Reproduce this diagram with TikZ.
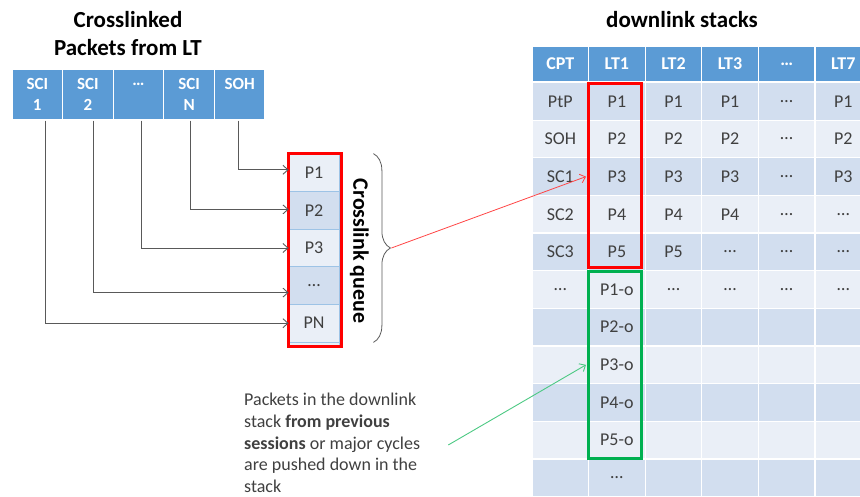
\documentclass[tikz,border=0pt]{standalone}
\usepackage{fontspec}
\setmainfont{Carlito}
\usetikzlibrary{arrows.meta,decorations.pathreplacing}
\definecolor{hdblue}{HTML}{5B9BD5}
\definecolor{band1}{HTML}{D2DEEF}
\definecolor{band0}{HTML}{EAEFF7}
\definecolor{qline}{HTML}{9DC3E6}
\definecolor{txtgray}{HTML}{404040}
\definecolor{feedgray}{HTML}{595959}
\definecolor{boxred}{HTML}{FF0000}
\definecolor{boxgreen}{HTML}{00B050}
\definecolor{notegreen}{HTML}{4CC983}
\definecolor{notered}{HTML}{FF4545}
\tikzset{
	title/.style={align=center, inner sep=0pt, font=\fontsize{23}{28}\selectfont\bfseries},
	pkt/.style={fill=hdblue, draw=white, line width=1.2pt, minimum width=50.6, minimum height=51,
		inner sep=0pt, align=center, text=white, font=\fontsize{17}{21}\selectfont\bfseries},
	hd/.style={fill=hdblue, draw=white, line width=1.2pt, minimum width=56.6, minimum height=36,
		inner sep=0pt, text=white, font=\fontsize{18}{21.6}\selectfont\bfseries},
	cell/.style={draw=white, line width=1.2pt, minimum width=56.6, minimum height=37.65,
		inner sep=0pt, text=txtgray},
	qcell/.style={draw=qline, line width=0.8pt, minimum width=50, minimum height=37.6,
		inner sep=0pt, text=txtgray},
	feed/.style={draw=feedgray, line width=0.9pt, -{Straight Barb[length=5pt,width=9pt]}},
	redbox/.style={draw=boxred, line width=3pt},
	greenbox/.style={draw=boxgreen, line width=3pt},
	brace/.style={draw=feedgray, line width=0.8pt, decorate, decoration={brace, amplitude=17pt}},
	redptr/.style={draw=notered, line width=0.8pt, -{Straight Barb[length=5pt,width=9pt]}},
	greenptr/.style={draw=notegreen, line width=0.9pt, -{Straight Barb[length=5pt,width=9pt]}},
	note/.style={anchor=west, align=left, inner sep=2pt, text=txtgray}
}
\begin{document}
\begin{tikzpicture}[x=1pt, y=-1pt, font=\fontsize{18}{21.6}\selectfont]
	%frame
	\useasboundingbox (0,0) rectangle (860,496);
	\clip (0,0) rectangle (860,496);
	%titles
	\node[title] (lt title) at (128,34) {Crosslinked\\Packets from LT};
	\node[title] (ds title) at (682,20) {downlink stacks};
	%packet header
	\foreach \t [count=\i] in {{SCI\\1},{SCI\\2},{…\\\mbox{}},{SCI\\N},{SOH\\\mbox{}}}
	\node[pkt] (s\i) at ({-13.3+50.6*\i},94.5) {\t};
	%queue
	\foreach \t [count=\i] in {P1,P2,P3,…,PN}
	{
		\pgfmathtruncatemacro\b{mod(\i+1,2)}
		\node[qcell, fill=band\b] (q\i) at (314,{135.2+37.6*\i}) {\t};
	}
	\node[qcell, fill=band0, minimum height=4] (q6) at (314,344) {};
	\draw[redbox] (q1.north west) rectangle ([xshift=2]q6.south east);
	%feeds
	\foreach \s/\q/\dx/\dy in {s1/q5/8/0, s2/q4/6/-7, s3/q3/3/0, s4/q2/1/1, s5/q1/-1/3}
	\draw[feed] ([xshift=\dx]\s.south) |- ([yshift=\dy]\q.west);
	%brace and label
	\draw[brace] ([xshift=34]q1.north east) -- coordinate[midway, xshift=18] (qtip) ([xshift=34]q5.south east);
	\node[rotate=-90, inner sep=0pt, font=\fontsize{22}{26}\selectfont\bfseries] (qname)
	at ([xshift=20, yshift=-3]q3.east) {Crosslink queue};
	%stacks table
	\foreach \h/\lst [count=\c] in {
		CPT/{PtP,SOH,SC1,SC2,SC3,…,{},{},{},{},{}},
		LT1/{P1,P2,P3,P4,P5,P1-o,P2-o,P3-o,P4-o,P5-o,…},
		LT2/{P1,P2,P3,P4,P5,…,{},{},{},{},{}},
		LT3/{P1,P2,P3,P4,…,…,{},{},{},{},{}},
		…/{…,…,…,…,…,…,{},{},{},{},{}},
		LT7/{P1,P2,P3,…,…,…,{},{},{},{},{}}}
	{
		\node[hd] (h\c) at ({503.7+56.6*\c},64) {\h};
		\foreach \t [count=\r] in \lst
		{
			\pgfmathtruncatemacro\b{mod(\r,2)}
			\node[cell, fill=band\b] (c\r-\c) at ({503.7+56.6*\c},{63.65+37.65*\r}) {\t};
		}
	}
	%boxes
	\draw[redbox] ([xshift=0.5, yshift=-2]c1-2.north west) rectangle ([xshift=-4.3, yshift=3.4]c5-2.south east);
	\draw[greenbox] ([xshift=0.5, yshift=-1.8]c6-2.north west) rectangle ([xshift=-4.3, yshift=1]c10-2.south east);
	%pointers
	\draw[redptr] (qtip) -- ([xshift=-2]c3-2.west);
	\node[note] (note) at (242,443) {Packets in the downlink\\stack \textbf{from previous}\\\textbf{sessions} or major cycles\\are pushed down in the\\stack};
	\draw[greenptr] ([xshift=26, yshift=-2]note.east) -- ([xshift=-2]c8-2.west);
\end{tikzpicture}
\end{document}
